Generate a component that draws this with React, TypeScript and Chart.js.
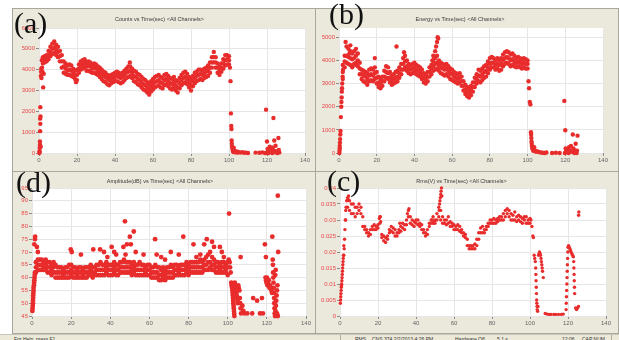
import { useEffect, useRef } from 'react';
import { Chart, registerables } from 'chart.js';

Chart.register(...registerables);

// ---------- shared axis data ----------
const timeTicks = [0, 20, 40, 60, 80, 100, 120, 140];
const bandTime = [
  2, 3, 4, 5, 6, 7, 8, 9, 10, 11,
  12, 13, 14, 15, 16, 17, 18, 19, 20, 21,
  22, 23, 24, 25, 26, 27, 28, 29, 30, 31,
  32, 33, 34, 35, 36, 37, 38, 39, 40, 41,
  42, 43, 44, 45, 46, 47, 48, 49, 50, 51,
  52, 53, 54, 55, 56, 57, 58, 59, 60, 61,
  62, 63, 64, 65, 66, 67, 68, 69, 70, 71,
  72, 73, 74, 75, 76, 77, 78, 79, 80, 81,
  82, 83, 84, 85, 86, 87, 88, 89, 90, 91,
  92, 93, 94, 95, 96, 97, 98, 99, 100,
];

// ---------- (a) Counts ----------
const countsTicks = [0, 1000, 2000, 3000, 4000, 5000, 6000];
const countsHi = [
  4600, 4650, 4700, 4900, 5100, 5250, 5350, 5200, 5100, 4900,
  4700, 4400, 4300, 4200, 4250, 4200, 4050, 3950, 4000, 4250,
  4400, 4450, 4500, 4350, 4400, 4350, 4250, 4300, 4250, 4150,
  4100, 4000, 3900, 3850, 3750, 3700, 3750, 3800, 3850, 3900,
  3850, 3800, 3850, 3950, 4050, 4150, 4150, 4050, 3950, 3900,
  3800, 3750, 3650, 3550, 3500, 3400, 3300, 3450, 3550, 3650,
  3700, 3750, 3650, 3600, 3750, 3800, 3700, 3600, 3550, 3650,
  3500, 3450, 3600, 3750, 3850, 3900, 3800, 3650, 3550, 3700,
  3850, 3900, 4000, 4000, 3950, 4050, 4100, 4200, 4350, 4600,
  4850, 4600, 4300, 4150, 4300, 4500, 4700, 4700, 4650,
];
const countsMid = [
  4450, 4500, 4550, 4700, 4850, 5000, 5050, 4950, 4850, 4650,
  4400, 4150, 4050, 3950, 4000, 3950, 3850, 3750, 3750, 4050,
  4200, 4250, 4300, 4150, 4200, 4150, 4050, 4100, 4050, 3950,
  3900, 3800, 3700, 3650, 3550, 3500, 3550, 3600, 3650, 3700,
  3650, 3600, 3650, 3750, 3850, 3900, 3950, 3850, 3700, 3650,
  3550, 3500, 3400, 3300, 3250, 3150, 3050, 3200, 3300, 3400,
  3450, 3500, 3400, 3350, 3500, 3550, 3450, 3350, 3300, 3400,
  3250, 3150, 3350, 3500, 3600, 3650, 3550, 3400, 3250, 3450,
  3600, 3700, 3750, 3800, 3750, 3800, 3900, 3950, 4100, 4350,
  4600, 4350, 4100, 3950, 4100, 4300, 4450, 4500, 4450,
];
const countsLo = [
  4300, 4350, 4400, 4500, 4650, 4750, 4800, 4700, 4600, 4400,
  4100, 3850, 3800, 3750, 3750, 3700, 3650, 3550, 3500, 3850,
  4000, 4050, 4100, 3950, 3950, 3900, 3850, 3850, 3800, 3750,
  3650, 3550, 3450, 3400, 3300, 3250, 3350, 3400, 3450, 3450,
  3400, 3350, 3400, 3500, 3600, 3650, 3700, 3600, 3450, 3400,
  3300, 3250, 3150, 3050, 3000, 2900, 2800, 2950, 3050, 3150,
  3200, 3250, 3150, 3100, 3250, 3300, 3200, 3100, 3050, 3150,
  3000, 2900, 3100, 3250, 3350, 3400, 3300, 3150, 3000, 3200,
  3350, 3450, 3500, 3550, 3500, 3600, 3650, 3700, 3850, 4100,
  4350, 4100, 3850, 3750, 3900, 4050, 4200, 4250, 4250,
];
const countsExtra = [
  [0.2, 0], [0.3, 100], [0.4, 250], [0.5, 400], [0.5, 550], [0.6, 1050], [0.7, 1400],
  [0.6, 1650], [0.8, 1750], [0.7, 2200], [0.3, 50], [0.9, 300], [1.0, 3700], [1.1, 3900],
  [1.2, 4050], [1.3, 3600], [1.5, 4450], [1.8, 3900], [2.2, 3150], [1.6, 4100], [2.5, 3800],
  [19.5, 3400], [47.8, 4350],
  [100.5, 4100], [100.8, 3450], [101, 1900], [101.2, 1300], [101.3, 1150], [101.4, 600],
  [101.5, 450], [101.6, 300], [101.8, 200], [102, 100], [102.3, 50], [102.5, 250], [103, 100],
  [103.5, 30], [104, 80], [104.5, 20], [105, 50], [106, 20], [107, 40], [108, 10], [109, 20],
  [110, 0], [114, 20], [116, 10], [117.5, 30], [119, 0], [119.5, 2080], [120, 550],
  [120.3, 200], [120.6, 100], [121, 50], [121.5, 300], [122, 150], [122.5, 50], [123, 250],
  [123.4, 1680], [123.8, 600], [124, 100], [124.5, 350], [125, 80], [125.5, 0], [126, 720],
  [126.2, 150], [119.8, 0], [120.8, 0], [122.8, 0], [124.8, 20], [126.5, 30],
];

// ---------- (b) Energy ----------
const energyTicks = [0, 1000, 2000, 3000, 4000, 5000];
const energyHi = [
  3800, 4200, 4600, 4500, 4400, 4300, 4400, 4500, 4300, 3900,
  3600, 3550, 3500, 3450, 3600, 3650, 3600, 3700, 3500, 3300,
  3200, 3300, 3550, 3750, 3700, 3500, 3350, 3400, 3500, 3550,
  3700, 3850, 4100, 4200, 4000, 3850, 3800, 3850, 3900, 3800,
  3750, 3700, 3600, 3450, 3400, 3500, 3700, 3800, 3950, 4100,
  4200, 4000, 3900, 3850, 3800, 3850, 3750, 3650, 3600, 3500,
  3450, 3400, 3450, 3300, 3100, 2950, 2850, 2800, 2900, 3050,
  3250, 3400, 3600, 3550, 3650, 3750, 3800, 3950, 4100, 4150,
  4100, 4000, 4100, 4000, 4100, 4250, 4350, 4400, 4350, 4250,
  4300, 4200, 4100, 4150, 4100, 4050, 4100, 4050, 4000,
];
const energyMid = [
  3500, 3950, 4200, 4150, 4100, 4050, 4100, 4200, 4000, 3650,
  3400, 3350, 3300, 3200, 3350, 3400, 3350, 3450, 3250, 3050,
  3000, 3100, 3300, 3500, 3450, 3250, 3150, 3200, 3250, 3300,
  3450, 3600, 3850, 3950, 3750, 3650, 3600, 3650, 3700, 3600,
  3550, 3500, 3400, 3250, 3200, 3300, 3500, 3600, 3750, 3850,
  3900, 3800, 3700, 3650, 3600, 3650, 3550, 3450, 3400, 3300,
  3250, 3200, 3250, 3100, 2900, 2750, 2650, 2600, 2700, 2850,
  3050, 3200, 3350, 3300, 3400, 3500, 3550, 3700, 3850, 3900,
  3900, 3800, 3850, 3800, 3850, 4000, 4100, 4150, 4100, 4000,
  4050, 3950, 3900, 3950, 3900, 3850, 3900, 3850, 3850,
];
const energyLo = [
  3200, 3700, 3900, 3850, 3800, 3750, 3850, 3900, 3750, 3400,
  3200, 3100, 3050, 2950, 3100, 3150, 3100, 3200, 3000, 2850,
  2800, 2900, 3100, 3250, 3200, 3050, 2950, 3000, 3050, 3100,
  3250, 3400, 3600, 3700, 3550, 3450, 3400, 3450, 3500, 3400,
  3350, 3300, 3200, 3050, 3000, 3100, 3300, 3400, 3550, 3600,
  3650, 3550, 3450, 3400, 3350, 3400, 3300, 3200, 3150, 3100,
  3050, 3000, 3050, 2900, 2700, 2550, 2450, 2400, 2500, 2650,
  2850, 3000, 3100, 3050, 3150, 3250, 3300, 3450, 3600, 3700,
  3700, 3600, 3650, 3550, 3600, 3750, 3850, 3900, 3850, 3750,
  3800, 3750, 3700, 3750, 3700, 3650, 3700, 3650, 3650,
];
const energyExtra = [
  [0.2, 0], [0.3, 100], [0.4, 200], [0.4, 300], [0.5, 450], [0.6, 600], [0.7, 800],
  [0.8, 950], [1.0, 1550], [1.2, 2000], [1.3, 2200], [1.4, 2400], [1.5, 2650], [1.6, 2800],
  [1.7, 3000], [1.9, 3300], [2.1, 3600], [3.5, 4800], [6, 4650], [5.5, 4300], [7, 3700],
  [9, 3800], [19, 4100], [30.5, 4600], [34.5, 4350], [50, 4200], [51, 4400], [51.5, 4600],
  [52, 4800], [52.3, 5000], [52.6, 4950], [50.5, 4100], [49.5, 4000],
  [100.5, 3100], [100.8, 2800], [101.2, 2200], [101.5, 2100], [101.8, 900], [101.9, 800],
  [102, 650], [102.1, 500], [102.2, 400], [102.3, 300], [102.5, 200], [102.8, 150], [103, 100],
  [103.5, 250], [104, 100], [104.5, 50], [105, 80], [106, 40], [107, 20], [108, 10], [109, 0],
  [110, 20], [113, 0], [115, 10], [117, 0], [119.5, 2250], [120, 980], [120.2, 200],
  [120.5, 100], [121, 150], [121.5, 50], [122, 250], [122.5, 100], [123, 300], [123.5, 50],
  [124, 800], [124.3, 200], [125, 100], [125.5, 400], [126, 0], [126.5, 750], [126.2, 100],
  [119.8, 0], [121.8, 0], [124.8, 0],
];

// ---------- (d) Amplitude ----------
const amplitudeTicks = [45, 50, 55, 60, 65, 70, 75, 80, 85, 90, 95];
const amplitudeHi = [
  66, 67, 67, 67, 66, 67, 66, 66, 65, 66,
  65, 64, 64, 64, 63, 64, 64, 65, 65, 64,
  64, 63, 64, 64, 63, 64, 64, 64, 65, 64,
  64, 65, 65, 66, 65, 65, 66, 65, 65, 65,
  66, 65, 65, 66, 66, 67, 66, 66, 66, 65,
  66, 65, 65, 66, 65, 65, 64, 65, 65, 64,
  64, 65, 64, 64, 63, 64, 63, 64, 64, 65,
  64, 65, 65, 64, 65, 65, 65, 66, 65, 66,
  66, 66, 66, 66, 67, 66, 67, 68, 69, 70,
  68, 67, 66, 66, 65, 66, 66, 65, 66,
];
const amplitudeMid = [
  64, 65, 65, 65, 64, 65, 64, 64, 63, 64,
  62, 62, 62, 62, 61, 62, 62, 62, 63, 62,
  62, 61, 62, 62, 61, 62, 62, 62, 63, 62,
  62, 63, 63, 63, 63, 63, 64, 63, 63, 63,
  64, 63, 63, 64, 64, 64, 64, 64, 64, 63,
  64, 63, 63, 63, 63, 63, 62, 63, 63, 62,
  62, 62, 62, 61, 61, 62, 61, 62, 62, 62,
  62, 63, 63, 62, 63, 63, 63, 64, 63, 64,
  64, 64, 64, 64, 64, 64, 65, 65, 66, 66,
  65, 65, 64, 64, 63, 64, 64, 63, 64,
];
const amplitudeLo = [
  62, 63, 63, 63, 63, 63, 62, 62, 61, 62,
  60, 60, 60, 60, 60, 60, 60, 60, 61, 60,
  60, 60, 60, 60, 60, 60, 60, 61, 61, 60,
  61, 61, 61, 61, 61, 61, 62, 61, 61, 61,
  62, 61, 61, 62, 62, 62, 62, 62, 62, 61,
  62, 61, 61, 61, 61, 61, 61, 61, 61, 60,
  60, 60, 60, 59, 59, 60, 59, 60, 60, 60,
  60, 61, 61, 61, 61, 61, 61, 62, 61, 62,
  62, 62, 62, 62, 62, 62, 63, 63, 63, 64,
  63, 63, 62, 62, 62, 62, 62, 62, 61,
];
const amplitudeExtra = [
  [0.2, 47], [0.3, 48], [0.4, 49], [0.5, 50], [0.5, 51], [0.6, 52], [0.6, 53], [0.7, 54],
  [0.8, 55], [0.8, 56], [1.0, 57], [1.1, 58], [1.2, 59], [1.3, 60], [1.4, 61], [1.5, 62],
  [1.2, 73], [1.5, 75], [1.6, 76], [2.5, 72], [3, 70],
  [19.8, 71], [20.3, 70], [25, 69], [31.3, 71], [34.8, 71], [36.8, 70], [38.5, 68], [40.7, 72],
  [42, 70], [43, 69], [46.7, 72], [47.5, 82], [47.8, 69], [48.5, 73], [50, 76], [50.5, 73],
  [52, 78], [53, 70], [57, 69], [62.9, 75], [63.7, 69], [66, 68], [68, 67], [70.9, 70],
  [75, 69], [77.3, 76], [82.5, 73], [84, 68], [86, 69], [88, 73], [89.3, 75], [92, 74],
  [93, 72], [96, 72], [97, 70], [98, 68],
  [100.7, 85], [100.5, 67], [101, 66], [101.2, 64], [101.5, 62], [101.8, 58], [102, 57],
  [102.2, 56], [102.4, 55], [102.5, 54], [102.6, 53], [102.7, 52], [102.8, 51], [102.9, 50],
  [103, 49], [103.1, 48], [103.2, 47], [103.3, 46], [103.4, 45], [103.6, 58], [103.8, 57],
  [104, 56], [104.2, 55], [104.4, 54], [104.6, 53], [104.8, 52], [105, 51], [105.2, 50],
  [105.4, 57], [105.6, 56], [106, 55], [106.2, 52], [106.4, 50], [106.6, 48], [106.8, 46],
  [106.6, 68], [107.5, 49], [108, 47], [108.5, 46], [110, 46], [112.5, 46], [113, 52],
  [115, 51], [116.5, 46], [117.5, 52], [118, 46],
  [119, 73], [119.5, 68], [119.3, 60], [119.6, 59], [119.8, 58], [120, 60], [120.3, 57],
  [120.6, 58], [121, 59], [121.3, 56], [121.6, 57], [122, 56], [122.3, 55], [122.6, 54],
  [122.8, 76], [123, 67], [123.1, 65], [123.2, 62], [123.3, 60], [123.4, 58], [123.5, 56],
  [123.6, 54], [123.7, 52], [123.8, 50], [123.9, 48], [124, 46], [124.2, 45], [124.4, 47],
  [124.6, 49], [124.8, 51], [125, 53], [125.2, 55], [125.4, 57], [125.2, 46], [125.6, 45],
  [125.8, 70], [125.6, 92], [124.5, 63], [124.3, 61],
];

// ---------- (c) Rms ----------
const rmsTicks = [0, 0.005, 0.01, 0.015, 0.02, 0.025, 0.03, 0.035, 0.04];
const rmsHi = [
  0.022, 0.033, 0.037, 0.036, 0.035, 0.035, 0.034, 0.034, 0.035, 0.034,
  0.031, 0.028, 0.027, 0.026, 0.027, 0.028, 0.0285, 0.028, 0.0285, 0.031,
  0.0255, 0.025, 0.0245, 0.025, 0.027, 0.028, 0.0275, 0.027, 0.026, 0.027,
  0.028, 0.029, 0.0285, 0.03, 0.033, 0.031, 0.03, 0.0295, 0.03, 0.03,
  0.029, 0.0285, 0.027, 0.026, 0.027, 0.029, 0.03, 0.031, 0.03, 0.032,
  0.034, 0.033, 0.031, 0.03, 0.03, 0.031, 0.0295, 0.029, 0.0285, 0.028,
  0.0285, 0.028, 0.027, 0.026, 0.0255, 0.024, 0.022, 0.022, 0.022, 0.0225,
  0.024, 0.026, 0.0275, 0.028, 0.027, 0.028, 0.029, 0.03, 0.03, 0.0305,
  0.03, 0.0305, 0.031, 0.031, 0.032, 0.033, 0.0335, 0.033, 0.032, 0.0315,
  0.0325, 0.031, 0.0315, 0.031, 0.0305, 0.031, 0.031, 0.03, 0.0305,
];
const rmsLo = [
  0.019, 0.03, 0.034, 0.033, 0.032, 0.032, 0.031, 0.032, 0.033, 0.032,
  0.028, 0.027, 0.026, 0.025, 0.0255, 0.027, 0.027, 0.027, 0.0275, 0.029,
  0.0245, 0.0235, 0.023, 0.024, 0.026, 0.0265, 0.026, 0.025, 0.025, 0.026,
  0.0265, 0.0275, 0.027, 0.0285, 0.031, 0.029, 0.0285, 0.028, 0.029, 0.0285,
  0.028, 0.027, 0.026, 0.025, 0.0255, 0.028, 0.029, 0.029, 0.029, 0.03,
  0.031, 0.03, 0.029, 0.029, 0.0285, 0.029, 0.028, 0.028, 0.027, 0.027,
  0.027, 0.0265, 0.026, 0.025, 0.0245, 0.022, 0.021, 0.021, 0.021, 0.021,
  0.022, 0.024, 0.026, 0.026, 0.026, 0.027, 0.028, 0.029, 0.029, 0.029,
  0.029, 0.0295, 0.03, 0.03, 0.03, 0.031, 0.032, 0.031, 0.03, 0.03,
  0.03, 0.0295, 0.03, 0.0295, 0.029, 0.03, 0.029, 0.029, 0.029,
];
const rmsExtra = [
  [0.2, 0.004], [0.3, 0.005], [0.4, 0.006], [0.5, 0.007], [0.6, 0.008], [0.7, 0.009],
  [0.8, 0.0095], [0.9, 0.01], [1.0, 0.011], [1.1, 0.012], [1.2, 0.013], [1.3, 0.014],
  [1.4, 0.015], [1.5, 0.016], [1.6, 0.017], [1.7, 0.018], [1.8, 0.019], [2.2, 0.021],
  [2.4, 0.024], [2.6, 0.027], [2.8, 0.03], [3.2, 0.034], [3.5, 0.036], [4.5, 0.0375],
  [4.2, 0.0365],
  [20.7, 0.0305], [21.2, 0.031], [21.4, 0.0295], [35.5, 0.032], [36.3, 0.0335], [31.5, 0.029],
  [52.2, 0.033], [52.4, 0.035], [52.6, 0.036], [52.8, 0.037], [53, 0.038], [53.2, 0.039],
  [53.4, 0.04], [53.6, 0.0375], [49.5, 0.0295], [48.5, 0.03],
  [100.5, 0.03], [101, 0.028], [101.5, 0.025], [101.8, 0.0245], [102.2, 0.019], [102.5, 0.018],
  [102.8, 0.017], [103, 0.015], [103.1, 0.013], [103.2, 0.011], [103.3, 0.009], [103.4, 0.007],
  [103.5, 0.005], [103.6, 0.004], [103.7, 0.003], [103.8, 0.002], [104, 0.0015], [104.2, 0.003],
  [104.5, 0.019], [104.8, 0.0195], [105, 0.02], [105.3, 0.0195], [105.5, 0.019], [105.8, 0.018],
  [106, 0.017], [106.2, 0.016], [106.4, 0.015], [106.6, 0.014], [107, 0.012], [108, 0.0008],
  [109, 0.0006], [110, 0.0005], [111, 0.0005], [112.5, 0.0005], [113.5, 0.0005], [115, 0.0005],
  [116.5, 0.0005], [117.5, 0.0006],
  [119, 0.002], [119.1, 0.004], [119.2, 0.006], [119.3, 0.008], [119.4, 0.01], [119.5, 0.012],
  [119.6, 0.014], [119.7, 0.016], [119.8, 0.018], [119.9, 0.02], [120, 0.0215], [120.3, 0.022],
  [120.6, 0.0215], [121, 0.021], [121.3, 0.0205], [121.6, 0.02], [122, 0.0195], [122.4, 0.019],
  [122.8, 0.0185], [123, 0.017], [123.1, 0.015], [123.2, 0.013], [123.3, 0.011], [123.4, 0.009],
  [123.5, 0.007], [124, 0.0025], [124.5, 0.002], [125, 0.0025], [125.5, 0.003], [125.6, 0.0315],
  [125.7, 0.0325],
];

// ---------- chart helpers ----------
const RED = '#e82c2c';
const FONT = "'Liberation Sans', Arial, sans-serif";

type Spec = {
  title: string;
  left: number; top: number; width: number; height: number;
  yWidth: number; xHeight: number; padRight: number; plotTop: number;
  yMin: number; yMax: number; yTicks: number[];
  bands: number[][]; extra: number[][];
  radius: number;
};

const plotBg = {
  id: 'plotBg',
  beforeDraw(chart: any) {
    const { ctx, chartArea } = chart;
    ctx.save();
    ctx.fillStyle = '#ffffff';
    ctx.fillRect(chartArea.left, chartArea.top, chartArea.right - chartArea.left, chartArea.bottom - chartArea.top);
    ctx.restore();
  },
};

function ScatterPanel({ spec }: { spec: Spec }) {
  const ref = useRef<HTMLCanvasElement | null>(null);
  useEffect(() => {
    const datasets: any[] = spec.bands.map((vals) => ({
      data: bandTime.map((t, i) => ({ x: t, y: vals[i] })),
    }));
    datasets.push({ data: spec.extra.map(([t, v]) => ({ x: t, y: v })) });
    datasets.forEach((d) => {
      d.pointRadius = spec.radius;
      d.pointBackgroundColor = RED;
      d.pointBorderWidth = 0;
      d.showLine = false;
      d.clip = 4;
    });
    const titleLine = 5.5 * 1.2;
    const chart = new Chart(ref.current as HTMLCanvasElement, {
      type: 'scatter',
      data: { datasets },
      plugins: [plotBg],
      options: {
        animation: false,
        responsive: false,
        events: [],
        layout: { padding: { left: 0, right: spec.padRight, top: 0, bottom: 0 } },
        plugins: {
          legend: { display: false },
          tooltip: { enabled: false },
          title: {
            display: true,
            text: spec.title,
            color: '#3a3a3a',
            font: { size: 5.5, family: FONT, weight: 'normal' },
            padding: { top: 6, bottom: spec.plotTop - 6 - titleLine },
          },
        },
        scales: {
          x: {
            type: 'linear',
            min: 0,
            max: 140,
            afterBuildTicks: (s: any) => { s.ticks = timeTicks.map((v) => ({ value: v })); },
            afterFit: (s: any) => { s.height = spec.xHeight; },
            grid: { color: '#e6e6e6', tickColor: '#8a8a8a', tickLength: 3, lineWidth: 1 },
            border: { display: false },
            ticks: { color: '#666', font: { size: 6, family: FONT }, padding: 1, maxRotation: 0, autoSkip: false, callback: (v: any) => String(v) },
          },
          y: {
            type: 'linear',
            min: spec.yMin,
            max: spec.yMax,
            afterBuildTicks: (s: any) => { s.ticks = spec.yTicks.map((v) => ({ value: v })); },
            afterFit: (s: any) => { s.width = spec.yWidth; },
            grid: { color: '#e6e6e6', tickColor: '#8a8a8a', tickLength: 3, lineWidth: 1 },
            border: { display: false },
            ticks: { color: '#e8484a', font: { size: 6, family: FONT }, padding: 1, autoSkip: false, callback: (v: any) => String(v) },
          },
        },
      } as any,
    });
    return () => chart.destroy();
  }, [spec]);
  return (
    <canvas
      ref={ref}
      width={spec.width}
      height={spec.height}
      style={{ position: 'absolute', left: spec.left, top: spec.top, width: spec.width, height: spec.height }}
    />
  );
}

const specA: Spec = {
  title: 'Counts vs Time(sec) <All Channels>',
  left: 14, top: 10, width: 300, height: 159,
  yWidth: 25, xHeight: 16, padRight: 9, plotTop: 18,
  yMin: 0, yMax: 6000, yTicks: countsTicks,
  bands: [countsHi, countsMid, countsLo], extra: countsExtra, radius: 2.2,
};
const specB: Spec = {
  title: 'Energy vs Time(sec) <All Channels>',
  left: 317, top: 10, width: 302, height: 159,
  yWidth: 22, xHeight: 16, padRight: 16, plotTop: 18,
  yMin: 0, yMax: 5400, yTicks: energyTicks,
  bands: [energyHi, energyMid, energyLo], extra: energyExtra, radius: 2.2,
};
const specD: Spec = {
  title: 'Amplitude(dB) vs Time(sec) <All Channels>',
  left: 14, top: 172, width: 300, height: 160,
  yWidth: 18, xHeight: 16, padRight: 8, plotTop: 16,
  yMin: 45, yMax: 95, yTicks: amplitudeTicks,
  bands: [amplitudeHi, amplitudeMid, amplitudeLo], extra: amplitudeExtra, radius: 2.4,
};
const specC: Spec = {
  title: 'Rms(V) vs Time(sec) <All Channels>',
  left: 317, top: 172, width: 302, height: 160,
  yWidth: 23, xHeight: 16, padRight: 13, plotTop: 16,
  yMin: 0, yMax: 0.04, yTicks: rmsTicks,
  bands: [rmsHi, rmsLo], extra: rmsExtra, radius: 1.7,
};

const BEIGE = '#ebe8dc';
const EDGE = '#a9a69c';

const frame = (left: number, top: number, width: number, height: number) => ({
  position: 'absolute' as const, left, top, width, height, boxSizing: 'border-box' as const,
  background: BEIGE, border: `1px solid ${EDGE}`,
});

const bigLabel = (left: number, top: number) => ({
  position: 'absolute' as const, left, top, fontFamily: "'Liberation Serif', 'Times New Roman', serif",
  fontSize: 30, lineHeight: 1, color: '#111', whiteSpace: 'nowrap' as const,
});

const statusText = (left: number) => ({ position: 'absolute' as const, left, top: 1 });

export default function App() {
  return (
    <div style={{ position: 'absolute', left: 0, top: 0, width: 619, height: 340, background: '#fff', overflow: 'hidden', fontFamily: FONT }}>
      <div style={frame(12, 8, 304, 164)} />
      <div style={frame(315, 8, 304, 164)} />
      <div style={frame(12, 171, 304, 163)} />
      <div style={frame(315, 171, 304, 163)} />
      <ScatterPanel spec={specA} />
      <ScatterPanel spec={specB} />
      <ScatterPanel spec={specD} />
      <ScatterPanel spec={specC} />
      <div style={bigLabel(14, 8)}>(a)</div>
      <div style={bigLabel(329, -1)}>(b)</div>
      <div style={bigLabel(16, 167)}>(d)</div>
      <div style={bigLabel(327, 166)}>(c)</div>
      <div style={{ position: 'absolute', left: 0, top: 334, width: 619, height: 6, background: '#ece9d8', borderTop: '1px solid #c9c6ba', fontSize: 5, color: '#333', whiteSpace: 'nowrap' }}>
        <span style={statusText(14)}>For Help, press F1</span>
        <span style={{ position: 'absolute', left: 340, top: 0, width: 270, height: 6, borderLeft: '1px solid #b0ada2', borderRight: '1px solid #b0ada2' }} />
        <span style={statusText(355)}>RMS</span>
        <span style={statusText(372)}>CNS 374  2/2/2013  4:26 PM</span>
        <span style={statusText(455)}>Hardware Off</span>
        <span style={statusText(497)}>5.1 s</span>
        <span style={statusText(562)}>12:06</span>
        <span style={statusText(582)}>CAP  NUM</span>
      </div>
    </div>
  );
}
